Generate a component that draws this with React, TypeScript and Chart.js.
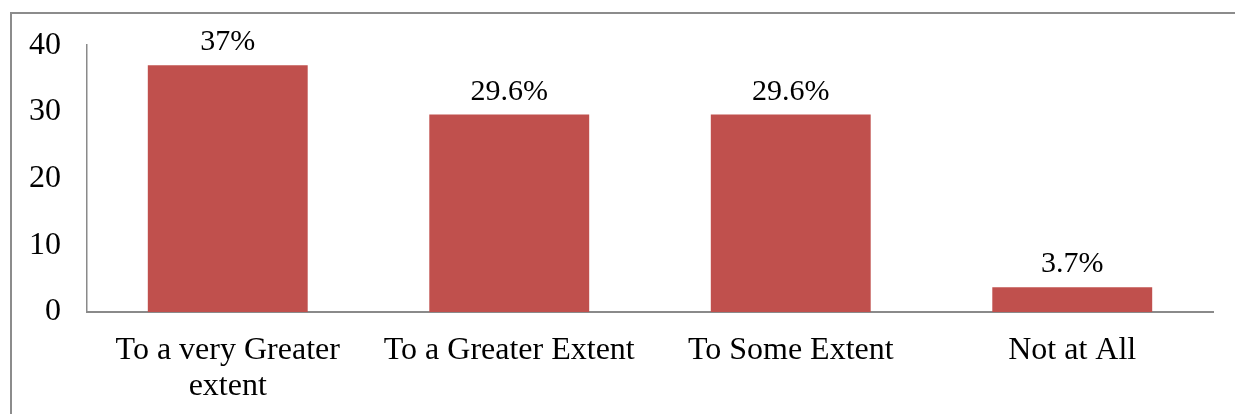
import React, { useEffect, useRef } from "react";
import { Chart, registerables } from "chart.js";

Chart.register(...registerables);

const categories: (string | string[])[] = [
  ["To a very Greater", "extent"],
  "To a Greater Extent",
  "To Some Extent",
  "Not at All",
];
const values: number[] = [37, 29.6, 29.6, 3.7];
const valueLabels: string[] = ["37%", "29.6%", "29.6%", "3.7%"];
const yTicks: number[] = [0, 10, 20, 30, 40];

const FONT = "'Times New Roman', 'Liberation Serif', serif";

const dataLabelPlugin = {
  id: "dataLabels",
  afterDatasetsDraw(chart: any) {
    const ctx = chart.ctx;
    const meta = chart.getDatasetMeta(0);
    ctx.save();
    ctx.font = `30px ${FONT}`;
    ctx.fillStyle = "#000";
    ctx.textAlign = "center";
    ctx.textBaseline = "alphabetic";
    meta.data.forEach((bar: any, i: number) => {
      ctx.fillText(valueLabels[i], bar.x, bar.y - 15);
    });
    ctx.restore();
  },
};

export default function App() {
  const ref = useRef<HTMLCanvasElement>(null);
  useEffect(() => {
    if (!ref.current) return;
    const chart = new Chart(ref.current, {
      type: "bar",
      data: {
        labels: categories,
        datasets: [
          {
            data: values,
            backgroundColor: "#C0504D",
            borderWidth: 0,
            barPercentage: 0.568,
            categoryPercentage: 1,
          },
        ],
      },
      options: {
        responsive: false,
        animation: false,
        layout: { padding: { top: 42, right: 22, bottom: 0, left: 0 } },
        plugins: { legend: { display: false }, tooltip: { enabled: false } },
        scales: {
          x: {
            grid: { display: false, drawTicks: false },
            border: { display: true, color: "#8a8a8a", width: 2 },
            ticks: {
              color: "#000",
              font: { family: FONT, size: 32, lineHeight: 1.125 },
              padding: 21,
              maxRotation: 0,
              autoSkip: false,
            },
            afterFit: (s: any) => {
              s.height = 102;
            },
          },
          y: {
            min: 0,
            max: 40,
            grid: { display: false, drawTicks: false },
            border: { display: true, color: "#8a8a8a", width: 1.5 },
            afterBuildTicks: (s: any) => {
              s.ticks = yTicks.map((v) => ({ value: v }));
            },
            ticks: {
              color: "#000",
              font: { family: FONT, size: 32 },
              padding: 26,
            },
            afterFit: (s: any) => {
              s.width = 87;
            },
          },
        },
      },
      plugins: [dataLabelPlugin],
    });
    return () => chart.destroy();
  }, []);
  return (
    <div style={{ position: "absolute", left: 0, top: 0, width: 1235, height: 414, background: "#fff", overflow: "hidden" }}>
      <div
        style={{
          position: "absolute",
          left: 10,
          top: 12,
          width: 1400,
          height: 600,
          border: "2px solid #8c8c8c",
        }}
      />
      <canvas ref={ref} width={1235} height={414} style={{ position: "absolute", left: 0, top: 0, display: "block" }} />
    </div>
  );
}
